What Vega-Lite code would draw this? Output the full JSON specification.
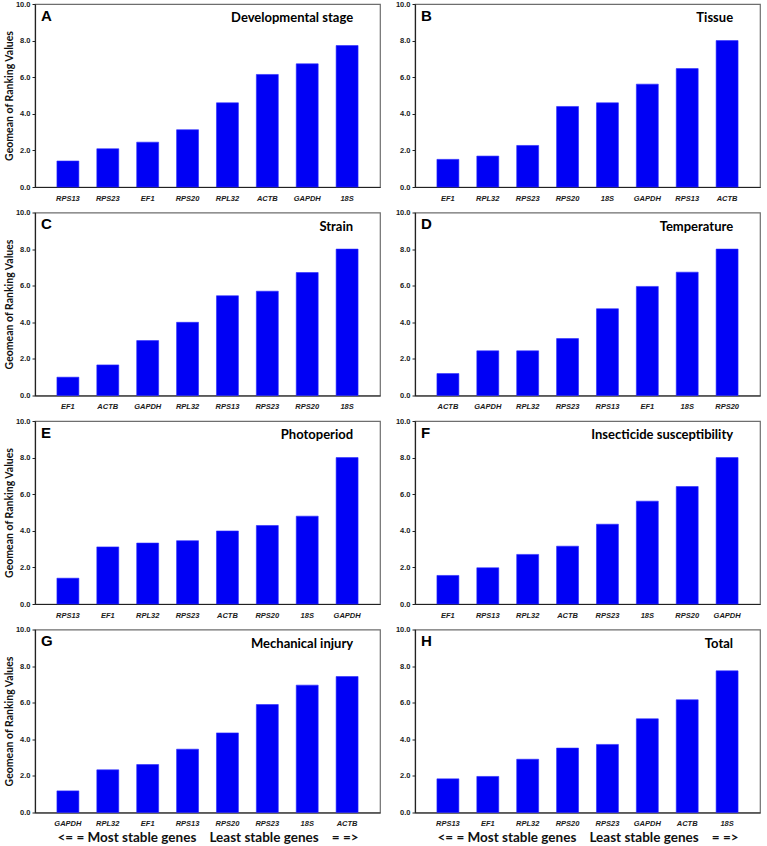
{
  "$schema": "https://vega.github.io/schema/vega-lite/v6.json",
  "background": "white",
  "padding": {"left": 3, "top": -1, "right": 4, "bottom": 0},
  "datasets": {
    "genes": [
      {"panel": "A", "condition": "Developmental stage", "gene": "RPS13", "value": 1.42},
      {"panel": "A", "condition": "Developmental stage", "gene": "RPS23", "value": 2.09},
      {"panel": "A", "condition": "Developmental stage", "gene": "EF1", "value": 2.45},
      {"panel": "A", "condition": "Developmental stage", "gene": "RPS20", "value": 3.13},
      {"panel": "A", "condition": "Developmental stage", "gene": "RPL32", "value": 4.6},
      {"panel": "A", "condition": "Developmental stage", "gene": "ACTB", "value": 6.15},
      {"panel": "A", "condition": "Developmental stage", "gene": "GAPDH", "value": 6.73},
      {"panel": "A", "condition": "Developmental stage", "gene": "18S", "value": 7.73},
      {"panel": "B", "condition": "Tissue", "gene": "EF1", "value": 1.51},
      {"panel": "B", "condition": "Tissue", "gene": "RPL32", "value": 1.69},
      {"panel": "B", "condition": "Tissue", "gene": "RPS23", "value": 2.27},
      {"panel": "B", "condition": "Tissue", "gene": "RPS20", "value": 4.4},
      {"panel": "B", "condition": "Tissue", "gene": "18S", "value": 4.6},
      {"panel": "B", "condition": "Tissue", "gene": "GAPDH", "value": 5.62},
      {"panel": "B", "condition": "Tissue", "gene": "RPS13", "value": 6.47},
      {"panel": "B", "condition": "Tissue", "gene": "ACTB", "value": 8.0},
      {"panel": "C", "condition": "Strain", "gene": "EF1", "value": 1.0},
      {"panel": "C", "condition": "Strain", "gene": "ACTB", "value": 1.67},
      {"panel": "C", "condition": "Strain", "gene": "GAPDH", "value": 3.0},
      {"panel": "C", "condition": "Strain", "gene": "RPL32", "value": 4.0},
      {"panel": "C", "condition": "Strain", "gene": "RPS13", "value": 5.45},
      {"panel": "C", "condition": "Strain", "gene": "RPS23", "value": 5.7},
      {"panel": "C", "condition": "Strain", "gene": "RPS20", "value": 6.72},
      {"panel": "C", "condition": "Strain", "gene": "18S", "value": 8.0},
      {"panel": "D", "condition": "Temperature", "gene": "ACTB", "value": 1.2},
      {"panel": "D", "condition": "Temperature", "gene": "GAPDH", "value": 2.44},
      {"panel": "D", "condition": "Temperature", "gene": "RPL32", "value": 2.44},
      {"panel": "D", "condition": "Temperature", "gene": "RPS23", "value": 3.11},
      {"panel": "D", "condition": "Temperature", "gene": "RPS13", "value": 4.74},
      {"panel": "D", "condition": "Temperature", "gene": "EF1", "value": 5.96},
      {"panel": "D", "condition": "Temperature", "gene": "18S", "value": 6.74},
      {"panel": "D", "condition": "Temperature", "gene": "RPS20", "value": 8.0},
      {"panel": "E", "condition": "Photoperiod", "gene": "RPS13", "value": 1.41},
      {"panel": "E", "condition": "Photoperiod", "gene": "EF1", "value": 3.12},
      {"panel": "E", "condition": "Photoperiod", "gene": "RPL32", "value": 3.33},
      {"panel": "E", "condition": "Photoperiod", "gene": "RPS23", "value": 3.46},
      {"panel": "E", "condition": "Photoperiod", "gene": "ACTB", "value": 3.99},
      {"panel": "E", "condition": "Photoperiod", "gene": "RPS20", "value": 4.29},
      {"panel": "E", "condition": "Photoperiod", "gene": "18S", "value": 4.8},
      {"panel": "E", "condition": "Photoperiod", "gene": "GAPDH", "value": 8.0},
      {"panel": "F", "condition": "Insecticide susceptibility", "gene": "EF1", "value": 1.56},
      {"panel": "F", "condition": "Insecticide susceptibility", "gene": "RPS13", "value": 1.98},
      {"panel": "F", "condition": "Insecticide susceptibility", "gene": "RPL32", "value": 2.71},
      {"panel": "F", "condition": "Insecticide susceptibility", "gene": "ACTB", "value": 3.16},
      {"panel": "F", "condition": "Insecticide susceptibility", "gene": "RPS23", "value": 4.36},
      {"panel": "F", "condition": "Insecticide susceptibility", "gene": "18S", "value": 5.62},
      {"panel": "F", "condition": "Insecticide susceptibility", "gene": "RPS20", "value": 6.42},
      {"panel": "F", "condition": "Insecticide susceptibility", "gene": "GAPDH", "value": 8.0},
      {"panel": "G", "condition": "Mechanical injury", "gene": "GAPDH", "value": 1.18},
      {"panel": "G", "condition": "Mechanical injury", "gene": "RPL32", "value": 2.33},
      {"panel": "G", "condition": "Mechanical injury", "gene": "EF1", "value": 2.62},
      {"panel": "G", "condition": "Mechanical injury", "gene": "RPS13", "value": 3.46},
      {"panel": "G", "condition": "Mechanical injury", "gene": "RPS20", "value": 4.35},
      {"panel": "G", "condition": "Mechanical injury", "gene": "RPS23", "value": 5.9},
      {"panel": "G", "condition": "Mechanical injury", "gene": "18S", "value": 6.96},
      {"panel": "G", "condition": "Mechanical injury", "gene": "ACTB", "value": 7.43},
      {"panel": "H", "condition": "Total", "gene": "RPS13", "value": 1.84},
      {"panel": "H", "condition": "Total", "gene": "EF1", "value": 1.97},
      {"panel": "H", "condition": "Total", "gene": "RPL32", "value": 2.91},
      {"panel": "H", "condition": "Total", "gene": "RPS20", "value": 3.52},
      {"panel": "H", "condition": "Total", "gene": "RPS23", "value": 3.72},
      {"panel": "H", "condition": "Total", "gene": "GAPDH", "value": 5.12},
      {"panel": "H", "condition": "Total", "gene": "ACTB", "value": 6.16},
      {"panel": "H", "condition": "Total", "gene": "18S", "value": 7.74}
    ]
  },
  "columns": 2,
  "align": "each",
  "spacing": {"row": 4.5, "column": 13},
  "concat": [
    {
      "width": 345, "height": 183,
      "data": {"name": "genes"},
      "transform": [{"filter": "datum.panel === 'A'"}],
      "layer": [
        {"mark": "bar",
         "encoding": {
           "x": {"field": "gene", "type": "nominal", "sort": null, "axis": {"title": null}},
           "y": {"field": "value", "type": "quantitative", "scale": {"domain": [0, 10]}, "axis": {"title": "Geomean of Ranking Values"}}}},
        {"transform": [{"filter": "datum.gene === 'RPS13'"}], "mark": {"type": "text", "style": "letter"},
         "encoding": {"x": {"field": "gene", "type": "nominal", "sort": null}, "y": {"datum": 9.35}, "text": {"field": "panel"}}},
        {"transform": [{"filter": "datum.gene === '18S'"}], "mark": {"type": "text", "style": "cond"},
         "encoding": {"x": {"field": "gene", "type": "nominal", "sort": null}, "y": {"datum": 9.23}, "text": {"field": "condition"}}}
      ]
    },
    {
      "width": 345, "height": 183,
      "data": {"name": "genes"},
      "transform": [{"filter": "datum.panel === 'B'"}],
      "layer": [
        {"mark": "bar",
         "encoding": {
           "x": {"field": "gene", "type": "nominal", "sort": null, "axis": {"title": null}},
           "y": {"field": "value", "type": "quantitative", "scale": {"domain": [0, 10]}, "axis": {"title": null}}}},
        {"transform": [{"filter": "datum.gene === 'EF1'"}], "mark": {"type": "text", "style": "letter"},
         "encoding": {"x": {"field": "gene", "type": "nominal", "sort": null}, "y": {"datum": 9.35}, "text": {"field": "panel"}}},
        {"transform": [{"filter": "datum.gene === 'ACTB'"}], "mark": {"type": "text", "style": "cond"},
         "encoding": {"x": {"field": "gene", "type": "nominal", "sort": null}, "y": {"datum": 9.23}, "text": {"field": "condition"}}}
      ]
    },
    {
      "width": 345, "height": 183,
      "data": {"name": "genes"},
      "transform": [{"filter": "datum.panel === 'C'"}],
      "layer": [
        {"mark": "bar",
         "encoding": {
           "x": {"field": "gene", "type": "nominal", "sort": null, "axis": {"title": null}},
           "y": {"field": "value", "type": "quantitative", "scale": {"domain": [0, 10]}, "axis": {"title": "Geomean of Ranking Values"}}}},
        {"transform": [{"filter": "datum.gene === 'EF1'"}], "mark": {"type": "text", "style": "letter"},
         "encoding": {"x": {"field": "gene", "type": "nominal", "sort": null}, "y": {"datum": 9.35}, "text": {"field": "panel"}}},
        {"transform": [{"filter": "datum.gene === '18S'"}], "mark": {"type": "text", "style": "cond"},
         "encoding": {"x": {"field": "gene", "type": "nominal", "sort": null}, "y": {"datum": 9.23}, "text": {"field": "condition"}}}
      ]
    },
    {
      "width": 345, "height": 183,
      "data": {"name": "genes"},
      "transform": [{"filter": "datum.panel === 'D'"}],
      "layer": [
        {"mark": "bar",
         "encoding": {
           "x": {"field": "gene", "type": "nominal", "sort": null, "axis": {"title": null}},
           "y": {"field": "value", "type": "quantitative", "scale": {"domain": [0, 10]}, "axis": {"title": null}}}},
        {"transform": [{"filter": "datum.gene === 'ACTB'"}], "mark": {"type": "text", "style": "letter"},
         "encoding": {"x": {"field": "gene", "type": "nominal", "sort": null}, "y": {"datum": 9.35}, "text": {"field": "panel"}}},
        {"transform": [{"filter": "datum.gene === 'RPS20'"}], "mark": {"type": "text", "style": "cond"},
         "encoding": {"x": {"field": "gene", "type": "nominal", "sort": null}, "y": {"datum": 9.23}, "text": {"field": "condition"}}}
      ]
    },
    {
      "width": 345, "height": 183,
      "data": {"name": "genes"},
      "transform": [{"filter": "datum.panel === 'E'"}],
      "layer": [
        {"mark": "bar",
         "encoding": {
           "x": {"field": "gene", "type": "nominal", "sort": null, "axis": {"title": null}},
           "y": {"field": "value", "type": "quantitative", "scale": {"domain": [0, 10]}, "axis": {"title": "Geomean of Ranking Values"}}}},
        {"transform": [{"filter": "datum.gene === 'RPS13'"}], "mark": {"type": "text", "style": "letter"},
         "encoding": {"x": {"field": "gene", "type": "nominal", "sort": null}, "y": {"datum": 9.35}, "text": {"field": "panel"}}},
        {"transform": [{"filter": "datum.gene === 'GAPDH'"}], "mark": {"type": "text", "style": "cond"},
         "encoding": {"x": {"field": "gene", "type": "nominal", "sort": null}, "y": {"datum": 9.23}, "text": {"field": "condition"}}}
      ]
    },
    {
      "width": 345, "height": 183,
      "data": {"name": "genes"},
      "transform": [{"filter": "datum.panel === 'F'"}],
      "layer": [
        {"mark": "bar",
         "encoding": {
           "x": {"field": "gene", "type": "nominal", "sort": null, "axis": {"title": null}},
           "y": {"field": "value", "type": "quantitative", "scale": {"domain": [0, 10]}, "axis": {"title": null}}}},
        {"transform": [{"filter": "datum.gene === 'EF1'"}], "mark": {"type": "text", "style": "letter"},
         "encoding": {"x": {"field": "gene", "type": "nominal", "sort": null}, "y": {"datum": 9.35}, "text": {"field": "panel"}}},
        {"transform": [{"filter": "datum.gene === 'GAPDH'"}], "mark": {"type": "text", "style": "cond"},
         "encoding": {"x": {"field": "gene", "type": "nominal", "sort": null}, "y": {"datum": 9.23}, "text": {"field": "condition"}}}
      ]
    },
    {
      "width": 345, "height": 183,
      "data": {"name": "genes"},
      "transform": [{"filter": "datum.panel === 'G'"}],
      "layer": [
        {"mark": "bar",
         "encoding": {
           "x": {"field": "gene", "type": "nominal", "sort": null, "axis": {"title": "<=\u00a0=\u00a0Most stable genes\u00a0\u00a0\u00a0\u00a0Least stable genes\u00a0\u00a0\u00a0\u00a0=\u00a0=>"}},
           "y": {"field": "value", "type": "quantitative", "scale": {"domain": [0, 10]}, "axis": {"title": "Geomean of Ranking Values"}}}},
        {"transform": [{"filter": "datum.gene === 'GAPDH'"}], "mark": {"type": "text", "style": "letter"},
         "encoding": {"x": {"field": "gene", "type": "nominal", "sort": null}, "y": {"datum": 9.35}, "text": {"field": "panel"}}},
        {"transform": [{"filter": "datum.gene === 'ACTB'"}], "mark": {"type": "text", "style": "cond"},
         "encoding": {"x": {"field": "gene", "type": "nominal", "sort": null}, "y": {"datum": 9.23}, "text": {"field": "condition"}}}
      ]
    },
    {
      "width": 345, "height": 183,
      "data": {"name": "genes"},
      "transform": [{"filter": "datum.panel === 'H'"}],
      "layer": [
        {"mark": "bar",
         "encoding": {
           "x": {"field": "gene", "type": "nominal", "sort": null, "axis": {"title": "<=\u00a0=\u00a0Most stable genes\u00a0\u00a0\u00a0\u00a0Least stable genes\u00a0\u00a0\u00a0\u00a0=\u00a0=>"}},
           "y": {"field": "value", "type": "quantitative", "scale": {"domain": [0, 10]}, "axis": {"title": null}}}},
        {"transform": [{"filter": "datum.gene === 'RPS13'"}], "mark": {"type": "text", "style": "letter"},
         "encoding": {"x": {"field": "gene", "type": "nominal", "sort": null}, "y": {"datum": 9.35}, "text": {"field": "panel"}}},
        {"transform": [{"filter": "datum.gene === '18S'"}], "mark": {"type": "text", "style": "cond"},
         "encoding": {"x": {"field": "gene", "type": "nominal", "sort": null}, "y": {"datum": 9.23}, "text": {"field": "condition"}}}
      ]
    }
  ],
  "config": {
    "view": {"stroke": "#6e6e6e", "strokeWidth": 1.2},
    "bar": {"color": "#0000f5", "stroke": "#2a2aff", "strokeWidth": 0.6},
    "scale": {"bandPaddingInner": 0.45, "bandPaddingOuter": 0.55},
    "style": {
      "letter": {"align": "left", "baseline": "middle", "dx": -27, "font": "Liberation Sans", "fontSize": 15, "fontWeight": "bold", "fill": "#000"},
      "cond": {"align": "right", "baseline": "middle", "dx": 6, "font": "Lato", "fontSize": 13, "fontWeight": "bold", "fill": "#000"}
    },
    "axis": {
      "grid": false,
      "labelFont": "Liberation Sans",
      "labelFontWeight": "bold",
      "labelFontSize": 7.5,
      "labelColor": "#1a1a1a",
      "domainColor": "#222",
      "domainWidth": 1.2,
      "tickColor": "#222",
      "titleFont": "Lato",
      "titleFontWeight": "bold",
      "titleColor": "#111"
    },
    "axisX": {"labelAngle": 0, "labelFontStyle": "italic", "ticks": false, "labelPadding": 7, "titleFontSize": 13.5, "titlePadding": 3},
    "axisY": {"values": [0, 2, 4, 6, 8, 10], "format": ".1f", "tickSize": 3, "labelPadding": 2, "titleFontSize": 10.5, "titlePadding": 1}
  }
}
